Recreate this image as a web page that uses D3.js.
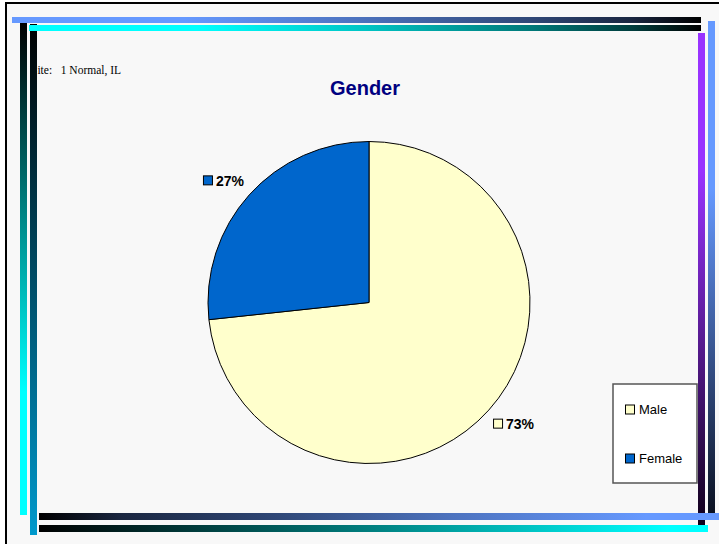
<!DOCTYPE html>
<html>
<head>
<meta charset="utf-8">
<script src="https://cdn.jsdelivr.net/npm/d3@7"></script>
<style>
  body { margin: 0; background: #ffffff; }
  svg { display: block; }
</style>
</head>
<body>
<div class="pie-chart"></div>
<script>
// Chart data
var categories = ["Male", "Female"];
var values = [73.3, 26.7];
var sliceColors = ["#ffffcc", "#0066cc"];
var title = "Gender";
var siteLabel = "Site:   1 Normal, IL";

var width = 719;
var height = 544;

var svg = d3.select(".pie-chart")
  .append("svg")
  .attr("width", width)
  .attr("height", height);

var defs = svg.append("defs");

// gradient helper: stops are [offset, color]
function gradient(id, horizontal, stops) {
  var g = defs.append("linearGradient")
    .attr("id", id)
    .attr("x1", 0).attr("y1", 0)
    .attr("x2", horizontal ? 1 : 0)
    .attr("y2", horizontal ? 0 : 1);
  stops.forEach(function (s) {
    g.append("stop").attr("offset", s[0]).attr("stop-color", s[1]);
  });
}

gradient("topBlue", true, [[0, "#6699ff"], [0.25, "#6699ff"], [0.5, "#4d73bf"], [0.75, "#304878"], [0.9, "#1a2640"], [1, "#000000"]]);
gradient("topCyan", true, [[0, "#00ffff"], [0.25, "#00ffff"], [0.5, "#00c4c4"], [0.75, "#007878"], [0.9, "#003c3c"], [1, "#000000"]]);
gradient("botBlue", true, [[0, "#000000"], [0.12, "#1a2640"], [0.35, "#304878"], [0.6, "#4d73bf"], [0.88, "#6699ff"], [1, "#6699ff"]]);
gradient("botCyan", true, [[0, "#000000"], [0.5, "#008080"], [0.94, "#00ffff"], [1, "#00ffff"]]);
gradient("leftOuter", false, [[0, "#000000"], [0.75, "#00ffff"], [1, "#00ffff"]]);
gradient("leftInner", false, [[0, "#000000"], [1, "#0099cc"]]);
gradient("rightPurple", false, [[0, "#9933ff"], [0.28, "#9933ff"], [1, "#10001a"]]);
gradient("rightBlue", false, [[0, "#6699ff"], [0.34, "#6699ff"], [1, "#0a1020"]]);

// Page background + outer border
svg.append("rect")
  .attr("x", 6).attr("y", 3)
  .attr("width", 800).attr("height", 600)
  .style("fill", "#f8f8f8")
  .style("stroke", "#000")
  .style("stroke-width", 2);

// Site label
svg.append("text")
  .attr("x", 31).attr("y", 74)
  .style("font-family", "'Liberation Serif', 'Times New Roman', serif")
  .style("font-size", "11.5px")
  .style("white-space", "pre")
  .attr("xml:space", "preserve")
  .text(siteLabel);

// Decorative frame bars
function bar(x, y, w, h, fill) {
  svg.append("rect")
    .attr("x", x).attr("y", y)
    .attr("width", w).attr("height", h)
    .style("fill", "url(#" + fill + ")");
}
bar(20, 23, 7, 492, "leftOuter");
bar(30, 24, 7, 511, "leftInner");
bar(12, 17, 689, 6, "topBlue");
bar(29, 25, 672, 6, "topCyan");
bar(698, 33, 7, 492, "rightPurple");
bar(708, 21, 7, 493, "rightBlue");
bar(39, 513, 690, 7, "botBlue");
bar(39, 525, 669, 7, "botCyan");

// Title
svg.append("text")
  .attr("x", 365).attr("y", 95)
  .attr("text-anchor", "middle")
  .style("font-family", "'Liberation Sans', Arial, sans-serif")
  .style("font-size", "20px")
  .style("font-weight", "bold")
  .style("fill", "#000080")
  .text(title);

// Pie
var cx = 369, cy = 302.5, radius = 161;
var pieData = d3.pie().sort(null)(values);
var arc = d3.arc().innerRadius(0).outerRadius(radius);

var pieG = svg.append("g")
  .attr("transform", `translate(${cx}, ${cy})`);

pieG.selectAll("path")
  .data(pieData).enter()
  .append("path")
  .attr("d", arc)
  .style("fill", function (d, i) { return sliceColors[i] })
  .style("stroke", "#000")
  .style("stroke-width", 1);

// Percentage labels outside the slices
var total = d3.sum(values);
var labelRx = 195, labelRy = 182;
var labels = pieG.selectAll(".pct")
  .data(pieData).enter()
  .append("g")
  .attr("class", "pct")
  .attr("transform", function (d) {
    var a = (d.startAngle + d.endAngle) / 2;
    return `translate(${Math.sin(a) * labelRx}, ${-Math.cos(a) * labelRy})`;
  });

labels.append("rect")
  .attr("x", -20.5).attr("y", -5)
  .attr("width", 9).attr("height", 9)
  .style("fill", function (d, i) { return sliceColors[i] })
  .style("stroke", "#000")
  .style("stroke-width", 1);

labels.append("text")
  .attr("x", -8).attr("y", 5)
  .style("font-family", "'Liberation Sans', Arial, sans-serif")
  .style("font-size", "14px")
  .style("font-weight", "bold")
  .text(function (d) { return Math.round(d.value / total * 100) + "%" });

// Legend
var legend = svg.append("g")
  .attr("transform", "translate(613, 384)");

legend.append("rect")
  .attr("width", 84).attr("height", 99)
  .style("fill", "#ffffff")
  .style("stroke", "#555")
  .style("stroke-width", 1.5);

var legendY = d3.scalePoint()
  .domain(categories)
  .range([25.5, 74.5]);

var items = legend.selectAll(".item")
  .data(categories).enter()
  .append("g")
  .attr("class", "item")
  .attr("transform", function (d) { return `translate(0, ${legendY(d)})` });

items.append("rect")
  .attr("x", 12.5).attr("y", -4.5)
  .attr("width", 9).attr("height", 9)
  .style("fill", function (d, i) { return sliceColors[i] })
  .style("stroke", "#000")
  .style("stroke-width", 1);

items.append("text")
  .attr("x", 26).attr("y", 4.5)
  .style("font-family", "'Liberation Sans', Arial, sans-serif")
  .style("font-size", "13px")
  .text(function (d) { return d });
</script>
</body>
</html>
